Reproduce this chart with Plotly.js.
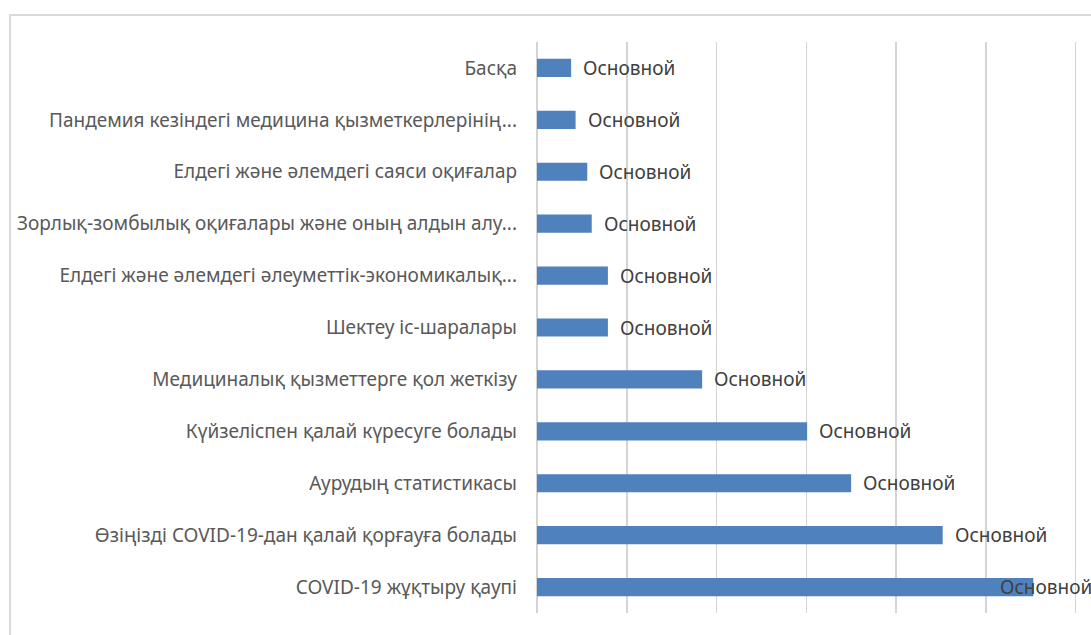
<!DOCTYPE html>
<html>
<head>
<meta charset="utf-8">
<script src="https://cdn.plot.ly/plotly-3.0.1.min.js"></script>
<style>
  html, body { margin: 0; padding: 0; background: #ffffff; overflow: hidden; }
  #frame { position: absolute; left: 9px; top: 14px; width: 1100px; height: 640px; border: 2px solid #d9d9d9; box-sizing: border-box; }
  #chart { position: absolute; left: 0; top: 0; width: 1091px; height: 635px; }
</style>
</head>
<body>
<div id="frame"></div>
<div id="chart"></div>
<script>
// Categories, top to bottom as shown
const categories = [
  "Басқа",
  "Пандемия кезіндегі медицина қызметкерлерінің...",
  "Елдегі және әлемдегі саяси оқиғалар",
  "Зорлық-зомбылық оқиғалары және оның алдын алу...",
  "Елдегі және әлемдегі әлеуметтік-экономикалық...",
  "Шектеу іс-шаралары",
  "Медициналық қызметтерге қол жеткізу",
  "Күйзеліспен қалай күресуге болады",
  "Аурудың статистикасы",
  "Өзіңізді COVID-19-дан қалай қорғауға болады",
  "COVID-19 жұқтыру қаупі"
];
// Series values
const values = [3.8, 4.3, 5.6, 6.1, 7.9, 7.9, 18.4, 30.1, 35.0, 45.2, 55.3];
// Data labels
const dataLabels = ["Основной", "Основной", "Основной", "Основной", "Основной", "Основной",
                    "Основной", "Основной", "Основной", "Основной", "Основной"];

const xMax = 60.5;
const labelFont = { family: "Noto Sans, Open Sans, sans-serif", size: 19, color: "#404040" };

const annotations = categories.map((c, i) => {
  const fits = values[i] < 50;
  return fits ? {
    x: values[i], y: c, xref: "x", yref: "y", text: dataLabels[i],
    showarrow: false, xanchor: "left", xshift: 10, font: labelFont
  } : {
    x: 1, y: c, xref: "paper", yref: "y", text: dataLabels[i],
    showarrow: false, xanchor: "right", xshift: 14, font: labelFont
  };
});

const trace = {
  type: "bar",
  orientation: "h",
  y: categories,
  x: values,
  marker: { color: "#4f81bd", line: { width: 0 } },
  hoverinfo: "x+y",
  cliponaxis: false
};

const layout = {
  width: 1091,
  height: 635,
  margin: { l: 537, r: 11, t: 42, b: 22, pad: 0 },
  paper_bgcolor: "rgba(0,0,0,0)",
  plot_bgcolor: "rgba(0,0,0,0)",
  showlegend: false,
  bargap: 0.65,
  xaxis: {
    range: [0, xMax],
    dtick: 10,
    tick0: 0,
    showgrid: true,
    gridcolor: "#d4d4d4",
    gridwidth: 1.5,
    zeroline: true,
    zerolinecolor: "#d4d4d4",
    zerolinewidth: 1.5,
    showticklabels: false,
    ticks: "",
    fixedrange: true
  },
  yaxis: {
    type: "category",
    autorange: "reversed",
    showgrid: false,
    zeroline: false,
    showline: false,
    ticks: "",
    ticklabelstandoff: 19,
    tickfont: { family: "Noto Sans, Open Sans, sans-serif", size: 19, color: "#595959" },
    fixedrange: true
  },
  annotations: annotations
};

Plotly.newPlot("chart", [trace], layout, { displayModeBar: false, staticPlot: true });
</script>
</body>
</html>
